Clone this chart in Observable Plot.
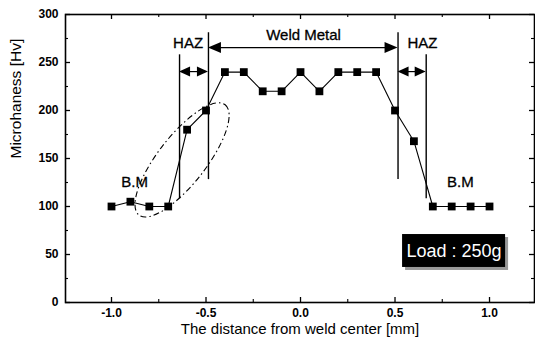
<!DOCTYPE html>
<html><head><meta charset="utf-8">
<script src="https://cdn.jsdelivr.net/npm/d3@7"></script>
<script src="https://cdn.jsdelivr.net/npm/@observablehq/plot@0.6"></script>
<style>body{margin:0;background:#fff} #chart{width:535px;height:344px}</style>
</head><body><div id="chart"></div>
<script>
const distance = [-1.0,-0.9,-0.8,-0.7,-0.6,-0.5,-0.4,-0.3,-0.2,-0.1,0.0,0.1,0.2,0.3,0.4,0.5,0.6,0.7,0.8,0.9,1.0];
const hardness = [100,105,100,100,180,200,240,240,220,220,240,220,240,240,240,200,168,100,100,100,100];
const xTicks = [-1,-0.5,0,0.5,1];
const xTickLabels = ["-1.0","-0.5","0.0","0.5","1.0"];
const xMinor = [-0.75,-0.25,0.25,0.75];
const yTicks = [0,50,100,150,200,250,300];
const yMinor = [25,75,125,175,225,275];
const zoneX = [-0.64,-0.487,0.516,0.665];
const zoneTop = [258,281,281,258];
const zoneBottom = [108,128,128,108];
const arrowFrom = [-0.487,-0.64,0.516];
const arrowTo = [0.516,-0.487,0.665];
const arrowY = [265,240,240];
const labelText = ["HAZ","Weld Metal","HAZ","B.M","B.M"];
const labelX = [-0.595,0.016,0.645,-0.878,0.846];
const labelY = [270,278,270,125,125];
const loadText = "Load : 250g";
const loadBox = {x1:0.54, x2:1.085, y1:36.5, y2:70.8, tx:0.812, ty:53.6};
const ellipse = {cx:-0.624, cy:148, a:70, b:24, angle:-52};

const points = distance.map((d,i)=>({d, h:hardness[i]}));
const zones = zoneX.map((x,i)=>({x, y1:zoneBottom[i], y2:zoneTop[i]}));
const arrows = arrowFrom.map((x1,i)=>({x1, x2:arrowTo[i], y:arrowY[i], big:i===0}));
const labels = labelText.map((t,i)=>({t, x:labelX[i], y:labelY[i]}));

const W=535,H=344,mL=65,mR=1,mT=14,mB=42;
const pw=W-mL-mR, ph=H-mT-mB;
const font = "Liberation Sans, Arial, Helvetica, sans-serif";

function arrowMark(index, scales){
  const g = d3.create("svg:g");
  for (const a of arrows){
    const x1=scales.x(a.x1), x2=scales.x(a.x2), y=scales.y(a.y);
    const hl=a.big?13:11, hw=a.big?5.5:5;
    g.append("line").attr("x1",x1+hl-1).attr("x2",x2-hl+1).attr("y1",y).attr("y2",y).attr("stroke","black").attr("stroke-width",1.2);
    g.append("path").attr("d",`M${x1},${y}L${x1+hl},${y-hw}L${x1+hl},${y+hw}Z`).attr("fill","black");
    g.append("path").attr("d",`M${x2},${y}L${x2-hl},${y-hw}L${x2-hl},${y+hw}Z`).attr("fill","black");
  }
  return g.node();
}
function ellipseMark(index, scales){
  const cx=scales.x(ellipse.cx), cy=scales.y(ellipse.cy);
  const g = d3.create("svg:g");
  g.append("ellipse").attr("cx",0).attr("cy",0).attr("rx",ellipse.a).attr("ry",ellipse.b)
    .attr("transform",`translate(${cx},${cy}) rotate(${ellipse.angle})`)
    .attr("fill","none").attr("stroke","black").attr("stroke-width",1.1)
    .attr("stroke-dasharray","6,3,1.5,3");
  return g.node();
}

const chart = Plot.plot({
  width:W, height:H, marginLeft:mL, marginRight:mR, marginTop:mT, marginBottom:mB,
  style:{fontFamily:font, background:"white", color:"black", overflow:"visible"},
  x:{domain:[-1.2434,1.238]},
  y:{domain:[0,300]},
  marks:[
    // axes labels
    Plot.axisX(xTicks,{tickSize:0, tickPadding:6, fontSize:12, fontWeight:"bold", tickFormat:(d,i)=>xTickLabels[i], label:null}),
    Plot.axisY(yTicks,{tickSize:0, tickPadding:7, fontSize:12, fontWeight:"bold", tickFormat:d=>String(d), label:null}),
    // inward ticks
    Plot.tickX(xTicks,{x:d=>d, insetTop:ph-5, stroke:"black", strokeWidth:1.3}),
    Plot.tickX(xTicks,{x:d=>d, insetBottom:ph-5, stroke:"black", strokeWidth:1.3}),
    Plot.tickX(xMinor,{x:d=>d, insetTop:ph-3, stroke:"black", strokeWidth:1.1}),
    Plot.tickX(xMinor,{x:d=>d, insetBottom:ph-3, stroke:"black", strokeWidth:1.1}),
    Plot.tickY(yTicks,{y:d=>d, insetRight:pw-5, stroke:"black", strokeWidth:1.3}),
    Plot.tickY(yTicks,{y:d=>d, insetLeft:pw-5, stroke:"black", strokeWidth:1.3}),
    Plot.tickY(yMinor,{y:d=>d, insetRight:pw-3, stroke:"black", strokeWidth:1.1}),
    Plot.tickY(yMinor,{y:d=>d, insetLeft:pw-3, stroke:"black", strokeWidth:1.1}),
    Plot.frame({stroke:"black", strokeWidth:1.6}),
    // titles
    Plot.text(["The distance from weld center [mm]"],{frameAnchor:"bottom", dy:31, fontSize:15, fill:"black"}),
    Plot.text(["Microhaness [Hv]"],{frameAnchor:"left", dx:-49, rotate:-90, fontSize:15.5, fill:"black"}),
    // zone boundaries
    Plot.ruleX(zones,{x:"x", y1:"y1", y2:"y2", stroke:"black", strokeWidth:1.4}),
    arrowMark,
    ellipseMark,
    // data
    Plot.line(points,{x:"d", y:"h", stroke:"black", strokeWidth:1.1}),
    Plot.dot(points,{x:"d", y:"h", symbol:"square", r:4.4, fill:"black", stroke:null}),
    // annotation labels
    Plot.text(labels,{x:"x", y:"y", text:"t", fontSize:15, fill:"black", stroke:"black", strokeWidth:0.3}),
    // load box
    Plot.rect([loadBox],{x1:"x1", x2:"x2", y1:"y1", y2:"y2", fill:"#999", dx:3, dy:3}),
    Plot.rect([loadBox],{x1:"x1", x2:"x2", y1:"y1", y2:"y2", fill:"black"}),
    Plot.text([loadBox],{x:"tx", y:"ty", text:()=>loadText, fill:"white", fontSize:18})
  ]
});
document.getElementById("chart").appendChild(chart);
</script>
</body></html>
